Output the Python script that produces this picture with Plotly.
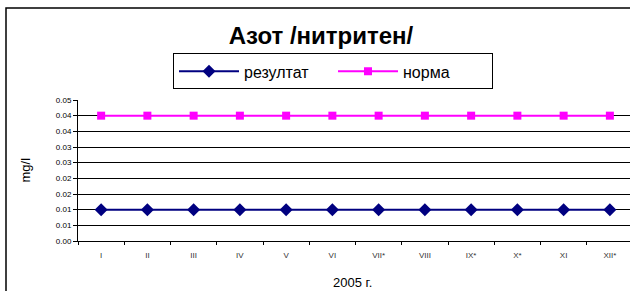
import plotly.graph_objects as go

months = ["I", "II", "III", "IV", "V", "VI", "VII*", "VIII", "IX*", "X*", "XI", "XII*"]
rezultat = [0.01] * 12
norma = [0.04] * 12
y_tickvals = [0, 0.005, 0.01, 0.015, 0.02, 0.025, 0.03, 0.035, 0.04, 0.045]
y_ticktext = ["0.00", "0.01", "0.01", "0.02", "0.02", "0.03", "0.03", "0.04", "0.04", "0.05"]
grid_vals = y_tickvals[1:-1]

fig = go.Figure()
fig.add_trace(go.Scatter(x=months, y=rezultat, name="резултат", mode="lines+markers",
                         line=dict(color="#000080", width=2),
                         marker=dict(symbol="diamond", size=10, color="#000080")))
fig.add_trace(go.Scatter(x=months, y=norma, name="норма", mode="lines+markers",
                         line=dict(color="#FF00FF", width=2),
                         marker=dict(symbol="square", size=8, color="#FF00FF")))

# The chart area in the reference extends slightly past the right edge of the window
W, H = 645, 291
PW = 555.0
yr = [0, y_tickvals[-1]]
xr = [-0.5, len(months) - 0.5]
fx0 = (6 - 78) / PW
fy1 = 1.652
frame_path = f"M {fx0},-0.5 L {fx0},{fy1} L 1.2,{fy1}"
fig.update_layout(
    width=W, height=H,
    margin=dict(l=78, r=W - 78 - int(PW), t=100, b=50),
    paper_bgcolor="white", plot_bgcolor="white",
    font=dict(family="Arial, Liberation Sans, sans-serif", color="black"),
    title=dict(text="<b>Азот /нитритен/</b>", font=dict(size=24, color="black"),
               xref="container", x=321 / W, xanchor="center",
               yref="container", y=1 - 36 / H, yanchor="middle"),
    showlegend=True,
    legend=dict(orientation="h", x=(173 - 78) / PW, xanchor="left", y=1.33, yanchor="top",
                bordercolor="black", borderwidth=1, bgcolor="white",
                itemwidth=60, entrywidth=84,
                font=dict(size=16, color="black")),
    xaxis=dict(type="category", range=xr, showgrid=False, showline=True, linecolor="black", linewidth=1,
               ticks="outside", tickson="boundaries", ticklen=3, tickcolor="black",
               tickfont=dict(size=8, color="#333"), ticklabelstandoff=6, zeroline=False),
    yaxis=dict(range=yr, tickvals=grid_vals, showticklabels=False, showgrid=True,
               gridcolor="black", gridwidth=1, zeroline=False, showline=False, ticks=""),
    yaxis2=dict(range=yr, overlaying="y", side="left", tickvals=y_tickvals, ticktext=y_ticktext,
                showgrid=False, zeroline=False, showline=True, linecolor="black", linewidth=1,
                ticks="outside", ticklen=4, tickcolor="black",
                tickfont=dict(size=8, color="black")),
    shapes=[dict(type="path", xref="paper", yref="paper", path=frame_path,
                 line=dict(color="black", width=1.5), fillcolor="rgba(0,0,0,0)", layer="above")],
    annotations=[
        dict(text="mg/l", xref="paper", yref="paper", x=(25 - 78) / PW, y=0.5, textangle=-90,
             showarrow=False, font=dict(size=13, color="black"), xanchor="center", yanchor="middle"),
        dict(text="2005 г.", xref="paper", yref="paper", x=(352 - 78) / PW, y=-0.291,
             showarrow=False, font=dict(size=13, color="black"), xanchor="center", yanchor="middle"),
    ],
)
# invisible trace to activate yaxis2
fig.add_trace(go.Scatter(x=months, y=rezultat, yaxis="y2", showlegend=False, hoverinfo="skip",
                         mode="lines", line=dict(color="rgba(0,0,0,0)")))

fig.write_html("out.html", config={"displayModeBar": False},
               post_script="document.body.style.margin='0';document.body.style.overflow='hidden';"
                           "document.documentElement.style.overflow='hidden';")
